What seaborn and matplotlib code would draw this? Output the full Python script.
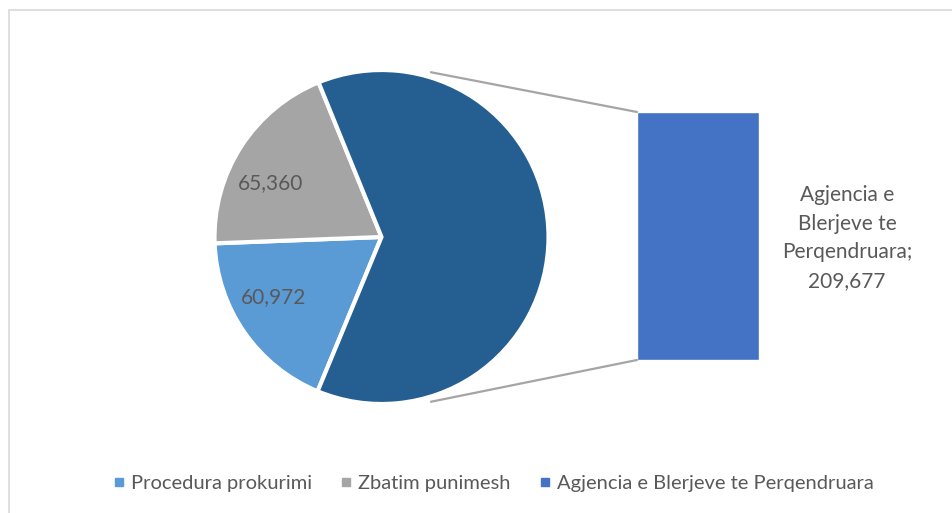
import numpy as np
import pandas as pd
import matplotlib
matplotlib.use("Agg")
import matplotlib.pyplot as plt
from matplotlib.patches import ConnectionPatch, Rectangle
from matplotlib.lines import Line2D
import seaborn as sns

# ─────────────────────────────────────────
# Data
# ─────────────────────────────────────────
categories = ["Procedura prokurimi", "Zbatim punimesh",
              "Agjencia e Blerjeve te Perqendruara"]
values = [60972, 65360, 209677]
pie_colors = ["#5B9BD5", "#A5A5A5", "#255E91"]
bar_color = "#4472C4"
bar_label = "Agjencia e\nBlerjeve te\nPerqendruara;\n209,677"

sns.set_theme(style="white")
plt.rcParams['font.family'] = ['Lato', 'DejaVu Sans']
text_color = "#595959"

fig = plt.figure(figsize=(9.52, 5.13), dpi=100)
W, H = 952, 513

def px_axes(x0, y0, x1, y1):
    # pixel box (top-left origin) -> figure axes
    return fig.add_axes([x0 / W, 1 - y1 / H, (x1 - x0) / W, (y1 - y0) / H])

# outer chart frame
fig.patches.append(Rectangle((9 / W, -0.1), 1.2, 1 - 10 / H + 0.1,
                             transform=fig.transFigure, fill=False,
                             edgecolor="#D9D9D9", linewidth=1.2))

# ─────────────────────────────────────────
# Pie
# ─────────────────────────────────────────
ax1 = px_axes(214.5, 70, 548.5, 404)
wedges, _ = ax1.pie(values, colors=pie_colors, startangle=247.5,
                    counterclock=False, radius=1,
                    wedgeprops=dict(edgecolor="white", linewidth=3))
ax1.set_xlim(-1, 1)
ax1.set_ylim(-1, 1)
ax1.set_aspect("equal")
ax1.axis("off")

# labels sit a little closer to the horizontal than the wedge middle
for w, v, shift in zip(wedges[:2], values[:2], [-6, 7]):
    mid = np.deg2rad((w.theta1 + w.theta2) / 2 + shift)
    ax1.text(0.74 * np.cos(mid), 0.74 * np.sin(mid), f"{v:,}",
             ha="center", va="center", fontsize=15, color=text_color)

# ─────────────────────────────────────────
# Bar
# ─────────────────────────────────────────
ax2 = px_axes(637, 112, 759, 360)
df_bar = pd.DataFrame({"cat": [categories[2]], "val": [values[2]]})
sns.barplot(data=df_bar, x="cat", y="val", ax=ax2, color=bar_color,
            width=1.0, saturation=1)
ax2.set_xlim(-0.5, 0.5)
ax2.set_ylim(0, values[2])
ax2.axis("off")

fig.text(847 / W, 1 - 238 / H, bar_label, ha="center", va="center",
         fontsize=15, color=text_color, linespacing=1.55)

# connector lines
ang = np.deg2rad(73.3)
for sgn, ybar in [(1, values[2]), (-1, 0)]:
    con = ConnectionPatch(xyA=(np.cos(ang) * 1.03, sgn * np.sin(ang) * 1.03),
                          coordsA=ax1.transData,
                          xyB=(-0.5, ybar), coordsB=ax2.transData,
                          color="#A5A5A5", linewidth=1.6)
    fig.add_artist(con)

# ─────────────────────────────────────────
# Legend
# ─────────────────────────────────────────
handles = [Line2D([], [], marker="s", linestyle="", markersize=6,
                  color=c) for c in [pie_colors[0], pie_colors[1], bar_color]]
fig.legend(handles, categories, loc="center", ncol=3,
           bbox_to_anchor=(0.518, 1 - 483 / H), frameon=False,
           fontsize=14.5, labelcolor=text_color, handlelength=0.6,
           handletextpad=0.3, columnspacing=1.4)

fig.savefig("out.png", dpi=100)
